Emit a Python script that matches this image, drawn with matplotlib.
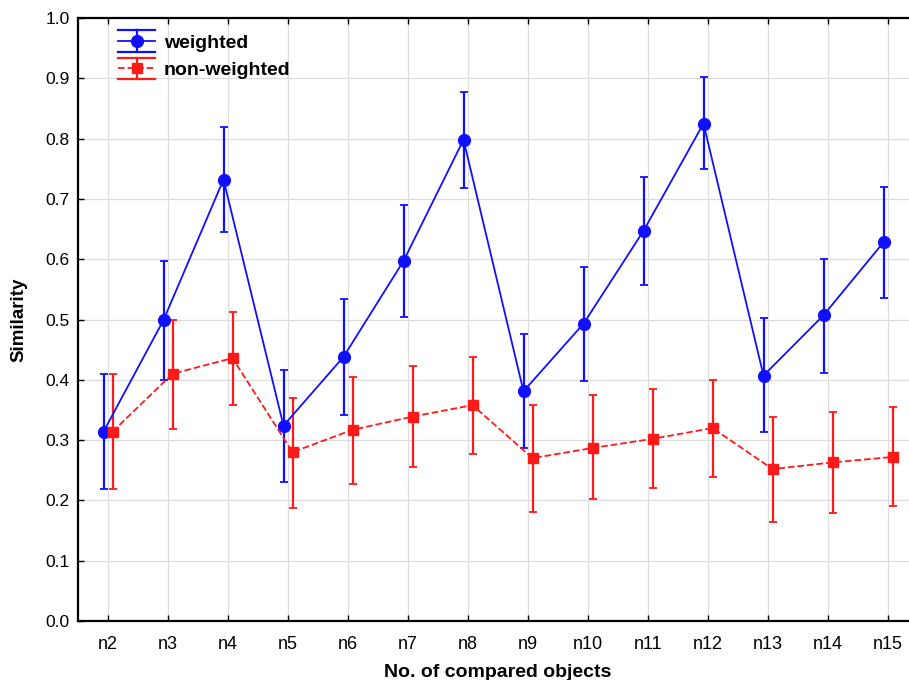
import matplotlib
matplotlib.use("Agg")
import matplotlib.pyplot as plt
import numpy as np
from matplotlib.lines import Line2D
from matplotlib.legend_handler import HandlerBase
from matplotlib.container import ErrorbarContainer

# data
labels = ["n2", "n3", "n4", "n5", "n6", "n7", "n8", "n9", "n10", "n11", "n12", "n13", "n14", "n15"]

weighted = [0.314, 0.499, 0.732, 0.324, 0.438, 0.597, 0.798, 0.381, 0.493, 0.647, 0.825, 0.407, 0.507, 0.628]
weighted_lo = [0.219, 0.400, 0.645, 0.230, 0.342, 0.504, 0.718, 0.287, 0.398, 0.558, 0.750, 0.313, 0.411, 0.536]
weighted_hi = [0.409, 0.597, 0.820, 0.417, 0.534, 0.690, 0.877, 0.476, 0.587, 0.736, 0.902, 0.502, 0.601, 0.720]

nonweighted = [0.314, 0.410, 0.436, 0.280, 0.317, 0.339, 0.358, 0.270, 0.287, 0.302, 0.320, 0.252, 0.263, 0.272]
nonweighted_lo = [0.219, 0.319, 0.359, 0.188, 0.227, 0.255, 0.277, 0.181, 0.202, 0.220, 0.238, 0.164, 0.179, 0.191]
nonweighted_hi = [0.409, 0.499, 0.513, 0.370, 0.405, 0.423, 0.437, 0.358, 0.374, 0.384, 0.399, 0.338, 0.347, 0.355]

plt.rcParams['font.family'] = ['Liberation Sans', 'DejaVu Sans']


class WideCapHandler(HandlerBase):
    """legend entry with caps spanning the whole handle, like the reference"""
    def create_artists(self, legend, orig_handle, xdescent, ydescent,
                       width, height, fontsize, trans):
        line = orig_handle[0]
        c = line.get_color()
        cy = height / 2 - ydescent
        x0, x1 = -xdescent, width - xdescent
        half = 0.8 * height
        arts = [
            Line2D([x0, x1], [cy, cy], color=c, lw=1.3, ls=line.get_linestyle()),
            Line2D([x0, x1], [cy + half, cy + half], color=c, lw=1.6),
            Line2D([x0, x1], [cy - half, cy - half], color=c, lw=1.6),
            Line2D([(x0 + x1) / 2] * 2, [cy - half, cy + half], color=c, lw=1.6),
            Line2D([(x0 + x1) / 2], [cy], color=c, marker=line.get_marker(),
                   markersize=line.get_markersize(), ls='none'),
        ]
        for a in arts:
            a.set_transform(trans)
        return arts


fig = plt.figure(figsize=(9.09, 6.8), dpi=100)
# right spine falls just outside the picture, as in the reference
ax = fig.add_axes([78 / 909, 1 - 621 / 680, 840 / 909, 603 / 680])

x = np.arange(len(labels))
off = 0.075

w = np.array(weighted)
nw = np.array(nonweighted)
w_err = [w - np.array(weighted_lo), np.array(weighted_hi) - w]
nw_err = [nw - np.array(nonweighted_lo), np.array(nonweighted_hi) - nw]

ax.errorbar(x - off, w, yerr=w_err, color='#1010ff', marker='o', markersize=8.5,
            linestyle='-', linewidth=1.3, elinewidth=1.6, capsize=3, capthick=1.3,
            label='weighted', zorder=3)
ax.errorbar(x + off, nw, yerr=nw_err, color='#ff1a1a', marker='s', markersize=7.5,
            linestyle='--', linewidth=1.3, elinewidth=1.6, capsize=3, capthick=1.3,
            label='non-weighted', zorder=3)

ax.set_xlim(-0.5, 13.5)
ax.set_ylim(0, 1.0)
ax.set_xticks(x)
ax.set_xticklabels(labels, family=['Liberation Sans Narrow', 'Liberation Sans', 'DejaVu Sans'],
                   fontsize=13)
ax.set_yticks(np.arange(0, 1.01, 0.1))
ax.set_yticklabels([f"{v:.1f}" for v in np.arange(0, 1.01, 0.1)], fontsize=12.5)

ax.grid(True, color='#dddddd', linewidth=0.9)
ax.set_axisbelow(True)
for s in ax.spines.values():
    s.set_linewidth(1.6)
ax.tick_params(direction='in', length=4, width=1, top=True, pad=6)
ax.tick_params(axis='x', pad=11)

ax.set_ylabel('Similarity', fontsize=13.5, fontweight='bold', labelpad=13)
ax.set_xlabel('No. of compared objects', fontsize=14, fontweight='bold', labelpad=8)

ax.legend(loc='upper left', bbox_to_anchor=(0.027, 1.002), frameon=False,
          prop={'weight': 'bold', 'size': 14}, handlelength=1.9, handletextpad=0.45,
          labelspacing=0.5, handler_map={ErrorbarContainer: WideCapHandler()})

fig.savefig('out.png', dpi=100)
